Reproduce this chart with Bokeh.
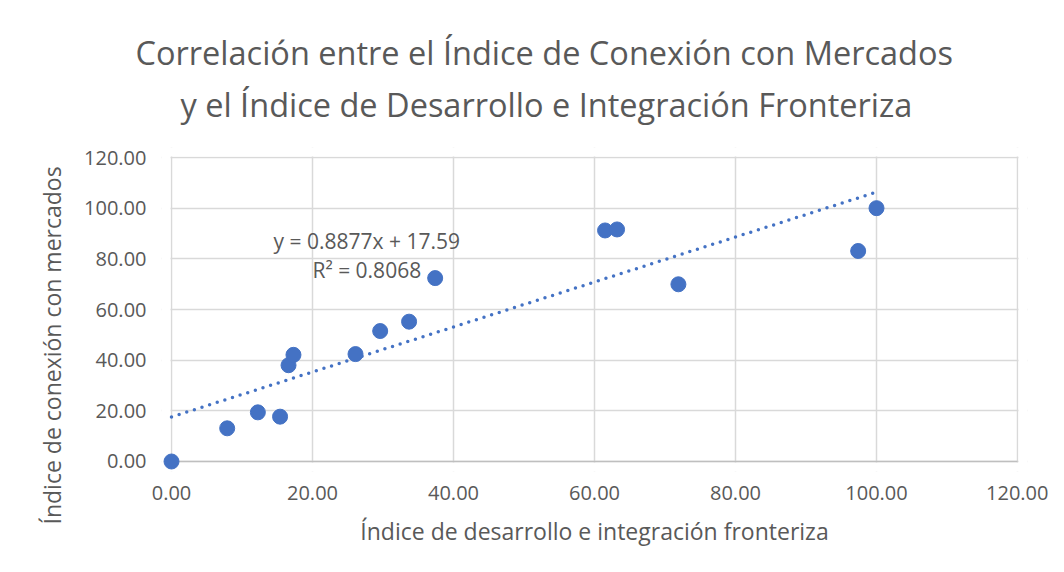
from bokeh.plotting import figure
from bokeh.models import (Label, Range1d, FixedTicker, NumeralTickFormatter, ColumnDataSource,
                          Title, BoxAnnotation)
from bokeh.embed import file_html
from bokeh.resources import INLINE

# --- data ---
desarrollo = [0.0, 7.9, 12.25, 15.4, 16.6, 17.3, 26.1, 29.6, 33.7, 37.4, 61.5, 63.2, 71.9, 97.4, 100.0]
conexion = [0.0, 13.1, 19.4, 17.7, 38.0, 42.1, 42.4, 51.5, 55.2, 72.4, 91.2, 91.6, 69.95, 83.1, 100.0]
trend_slope = 0.8877
trend_intercept = 17.59
trend_r2 = 0.8068
trend_x = [0.0, 100.0]
tick_values = [0, 20, 40, 60, 80, 100, 120]

title_lines = ["Correlación entre el Índice de Conexión con Mercados",
               "y el Índice de Desarrollo e Integración Fronteriza"]
x_title = "Índice de desarrollo e integración fronteriza"
y_title = "Índice de conexión con mercados"

FONT = "Open Sans"
TXT = "#595959"
GRID = "#d9d9d9"
AXIS = "#bfbfbf"
BLUE = "#4472C4"

lo, hi = tick_values[0], tick_values[-1]
# a small pad (about 10 px) so markers on the edge are not clipped
padx = 10 / 7.05
pady = 10 / 2.5333

p = figure(width=1048, height=556, output_backend="svg", toolbar_location=None,
           x_range=Range1d(lo - padx, hi + padx), y_range=Range1d(lo - pady, hi + pady),
           min_border_left=161, min_border_right=21, min_border_top=147, min_border_bottom=85)
p.outline_line_color = None
p.background_fill_color = "white"
p.border_fill_color = "white"

for ax in (p.xaxis[0], p.yaxis[0]):
    ax.ticker = FixedTicker(ticks=tick_values)
    ax.formatter = NumeralTickFormatter(format="0.00")
    ax.major_tick_line_color = None
    ax.minor_tick_line_color = None
    ax.axis_line_color = None
    ax.major_label_text_font = FONT
    ax.major_label_text_font_size = "20px"
    ax.major_label_text_color = TXT

p.xaxis.major_label_standoff = 8
p.yaxis.major_label_standoff = 9

p.xaxis.axis_label = x_title
p.xaxis.axis_label_text_font = FONT
p.xaxis.axis_label_text_font_size = "23px"
p.xaxis.axis_label_text_font_style = "normal"
p.xaxis.axis_label_text_color = TXT
p.xaxis.axis_label_standoff = 12

p.xgrid.grid_line_color = GRID
p.ygrid.grid_line_color = GRID
p.xgrid.grid_line_width = 1.5
p.ygrid.grid_line_width = 1.5

# mask grid overhang outside the 0..120 plot area
ex = 1 / 7.05
ey = 1 / 2.5333
for kw in (dict(right=lo - ex), dict(left=hi + ex), dict(top=lo - ey), dict(bottom=hi + ey)):
    p.add_layout(BoxAnnotation(fill_color="white", fill_alpha=1.0, line_color=None,
                               level="underlay", **kw))

# x axis line at y = 0
p.line([lo, hi], [lo, lo], line_color=AXIS, line_width=1.5)

# trendline
trend_y = [trend_slope * x + trend_intercept for x in trend_x]
p.line(trend_x, trend_y, line_color=BLUE, line_width=3.5, line_dash="0 8", line_cap="round")

# points
src = ColumnDataSource(dict(x=desarrollo, y=conexion))
p.scatter("x", "y", source=src, size=15, fill_color=BLUE, line_color=BLUE)

# equation
eq1 = "y = %.4fx + %.2f" % (trend_slope, trend_intercept)
eq2 = "R² = %.4f" % trend_r2
for txt, yy in ((eq1, 87.2), (eq2, 75.4)):
    p.add_layout(Label(x=27.7, y=yy, text=txt, text_font=FONT, text_font_size="21px",
                       text_color=TXT, text_align="center", text_baseline="middle"))

# title (two lines): the figure title is the outer line
p.title.text = title_lines[0]
p.title.align = "left"
p.title.offset = -26
p.title.standoff = -33
p.title.text_font = FONT
p.title.text_font_size = "32.5px"
p.title.text_font_style = "normal"
p.title.text_color = TXT
p.add_layout(Title(text=title_lines[1], align="left", offset=19, standoff=42,
                   text_font=FONT, text_font_size="32.5px", text_font_style="normal",
                   text_color=TXT), "above")

# y axis title
p.add_layout(Title(text=y_title, align="left", offset=-53, standoff=28,
                   text_font=FONT, text_font_size="23px", text_font_style="normal",
                   text_color=TXT), "left")

open("out.html", "w").write(file_html(p, INLINE))
